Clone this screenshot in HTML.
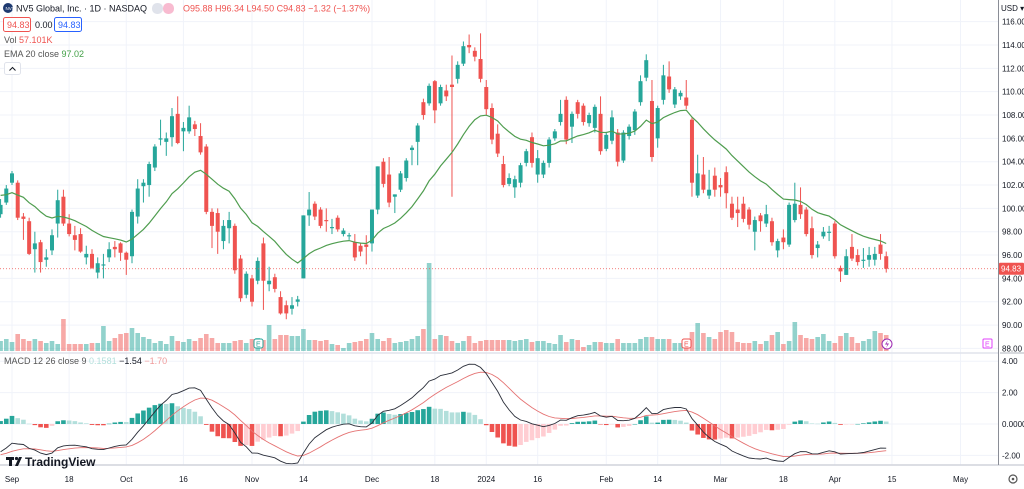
<!DOCTYPE html>
<html><head><meta charset="utf-8"><style>
html,body{margin:0;padding:0;background:#fff;overflow:hidden}
svg{display:block;font-family:"Liberation Sans",sans-serif}
</style></head><body>
<svg id="c" width="1024" height="489" viewBox="0 0 1024 489" xmlns="http://www.w3.org/2000/svg">
<g id="grid"></g>
<g id="vol"></g>
<g id="candles"></g>
<g id="ema"></g>
<g id="macd"></g>
<g id="axes"></g>
<line x1="0" y1="353" x2="998" y2="353" stroke="#e0e3eb" stroke-width="1.5"/>
<line x1="0" y1="465" x2="1024" y2="465" stroke="#d1d4dc" stroke-width="1.5"/>
<line x1="998.5" y1="0" x2="998.5" y2="465" stroke="#8a8d96" stroke-width="1"/>
<line x1="1000" y1="353" x2="1024" y2="353" stroke="#b2b5be"/>
<g font-size="9">
 <circle cx="8" cy="8" r="5" fill="#1e3a70"/>
 <text x="5.5" y="10" font-size="4.5" fill="#fff">NV5</text>
 <text x="16" y="11.5" fill="#131722">NV5 Global, Inc. · 1D · NASDAQ</text>
 <rect x="152" y="3" width="11" height="11" rx="5" fill="#e0e3eb"/>
 <rect x="163" y="3" width="11" height="11" rx="5" fill="#f8bbd0"/>
 <text x="183" y="11.5" fill="#ef5350">O95.88 H96.34 L94.50 C94.83 −1.32 (−1.37%)</text>
 <rect x="3.5" y="17.5" width="27" height="14" rx="2" fill="#fff" stroke="#ef5350"/>
 <text x="7" y="28" fill="#ef5350">94.83</text>
 <text x="35" y="28" fill="#131722">0.00</text>
 <rect x="54.5" y="17.5" width="27" height="14" rx="2" fill="#fff" stroke="#2962ff"/>
 <text x="58" y="28" fill="#2962ff">94.83</text>
 <text x="4" y="43" fill="#555">Vol <tspan fill="#ef5350">57.101K</tspan></text>
 <text x="4" y="57" fill="#555">EMA 20 close <tspan fill="#43a047">97.02</tspan></text>
 <rect x="4.5" y="62.5" width="16" height="12" rx="2" fill="#fff" stroke="#e0e3eb"/>
 <path d="M9.5 70.5 L12.5 67.5 L15.5 70.5" fill="none" stroke="#131722" stroke-width="1"/>
 <text x="4" y="364" fill="#555">MACD 12 26 close 9 <tspan fill="#b2dfdb">0.1581</tspan> <tspan fill="#131722">−1.54</tspan> <tspan fill="#ef9a9a">−1.70</tspan></text>
</g>
<g>
 <rect x="6" y="457" width="8" height="3" fill="#131722"/>
 <rect x="9" y="457" width="3" height="9" fill="#131722"/>
 <circle cx="16.5" cy="458.5" r="1.6" fill="#131722"/>
 <path d="M15 466 L19 457 L22 457 L18 466 Z" fill="#131722"/>
 <text x="25" y="466" font-size="12" font-weight="bold" fill="#131722">TradingView</text>
</g>
<text x="1001" y="11" font-size="8" fill="#131722">USD ▾</text>
<g><circle cx="1013" cy="479" r="4" fill="none" stroke="#555" stroke-width="1.2"/><circle cx="1013" cy="479" r="1.3" fill="#555"/></g>
<g>
 <rect x="254" y="339" width="9" height="9" rx="2" fill="#fff" stroke="#26a69a"/><text x="256" y="346.5" font-size="7" fill="#26a69a">E</text>
 <rect x="682" y="339" width="9" height="9" rx="2" fill="#fff" stroke="#ef5350"/><text x="684" y="346.5" font-size="7" fill="#ef5350">E</text>
 <circle cx="887" cy="344" r="5" fill="#fff" stroke="#9c27b0"/><path d="M888 340 L885 344.5 L887.5 344.5 L886 348 L889 343.5 L886.5 343.5 Z" fill="#9c27b0"/>
 <rect x="983" y="339" width="9" height="9" rx="1" fill="#fff" stroke="#e040fb"/><text x="985" y="346.5" font-size="7" fill="#e040fb">E</text>
</g>
</svg>
<script>
const opens=[99.5,100.5,102.2,102.2,99.3,98.9,96.5,97.1,95.6,96.4,98.7,101.0,98.7,97.7,97.8,95.8,96.1,94.5,95.1,95.8,96.7,97.0,96.2,95.9,99.3,101.9,102.0,103.5,105.9,105.7,106.1,108.1,106.6,106.6,107.2,106.2,105.3,99.7,99.6,97.2,98.3,98.5,95.7,92.6,94.0,93.8,97.0,93.5,94.1,92.4,91.7,91.4,92.0,94.0,99.4,100.4,99.9,99.0,98.3,99.2,97.8,97.6,97.1,96.8,96.9,97.0,99.9,104.0,102.9,101.0,101.6,102.6,105.0,105.7,109.1,109.0,110.9,109.0,110.1,110.6,111.1,112.4,114.0,113.5,112.8,110.4,108.6,106.4,103.8,102.1,101.8,102.2,103.9,106.1,102.9,102.9,103.9,106.0,107.4,109.3,107.0,109.1,108.8,107.3,106.9,108.1,105.1,105.8,106.5,104.1,106.2,106.7,109.1,111.2,109.2,106.0,109.3,111.3,108.9,109.6,109.5,107.6,101.1,102.9,101.1,102.8,102.0,103.1,100.4,99.9,100.4,99.9,98.0,99.4,98.7,98.9,96.4,97.5,96.9,99.0,100.3,99.9,98.3,96.6,97.6,97.9,98.7,94.9,94.3,96.7,96.0,95.5,95.6,95.6,96.9,95.9];
const highs=[100.8,102.0,103.2,102.4,99.6,99.2,98.0,97.3,96.5,98.2,101.6,101.6,99.5,98.5,98.3,96.8,96.5,95.8,96.1,97.1,97.2,97.1,96.3,99.9,102.5,102.5,104.0,105.5,107.6,106.5,108.6,109.6,107.4,108.8,107.5,107.3,105.5,100.0,100.0,99.0,99.7,98.7,96.0,94.6,94.3,95.8,97.5,95.0,94.4,92.9,92.1,92.4,92.5,99.4,101.4,100.6,100.1,100.0,99.1,99.4,98.3,97.9,97.8,97.0,97.7,99.9,103.6,104.3,104.4,101.2,103.2,104.3,105.4,107.3,109.4,110.7,111.0,110.6,110.6,113.1,112.6,114.3,114.9,113.8,115.0,111.0,109.0,107.2,104.5,103.0,102.8,103.9,105.1,106.5,105.0,104.1,106.1,106.8,109.3,109.6,108.3,109.3,109.0,108.2,108.9,109.6,106.5,108.4,106.8,106.7,107.2,108.5,111.4,113.2,111.0,108.8,112.3,112.6,110.4,110.1,111.0,107.8,104.6,104.4,103.3,103.5,102.6,103.6,101.0,101.0,101.0,100.1,99.3,99.6,100.3,99.2,97.4,98.2,100.5,102.2,101.8,100.1,99.3,97.2,98.4,98.5,98.9,95.1,96.5,97.8,96.5,96.6,96.7,96.7,97.8,96.3];
const lows=[99.2,100.3,102.0,99.0,97.3,96.0,94.5,94.5,95.0,96.0,97.5,98.5,97.6,96.4,96.2,95.2,94.8,94.0,94.0,95.4,95.8,95.5,94.3,95.3,98.7,100.5,101.0,103.2,105.4,104.5,105.3,105.5,104.9,106.4,106.2,104.6,99.5,96.6,96.1,96.5,97.0,94.4,92.0,92.3,91.6,93.5,91.3,92.9,92.8,90.9,90.5,90.9,91.6,94.0,98.5,99.0,98.3,98.0,97.8,98.0,97.6,97.3,95.5,95.9,95.2,96.3,99.5,101.8,100.1,99.6,101.4,102.3,103.7,103.7,107.6,108.8,107.3,108.8,109.2,101.0,110.7,112.2,113.3,112.6,110.8,108.0,105.5,104.4,101.8,101.9,100.9,101.8,103.6,103.5,102.2,102.6,103.5,105.8,107.1,105.5,105.6,107.7,107.1,107.0,106.5,104.6,104.9,105.5,103.6,103.9,105.9,106.3,108.8,110.9,104.0,105.2,108.9,109.9,108.6,109.3,108.5,101.0,100.9,101.3,100.8,101.0,101.0,100.0,99.0,98.4,98.8,98.2,96.4,98.0,98.4,96.8,95.8,96.5,96.7,98.8,99.1,97.6,95.7,95.8,97.4,97.2,95.7,93.7,94.3,95.5,95.1,94.9,95.0,95.1,95.6,94.5];
const closes=[100.3,101.7,103.0,99.2,99.1,96.1,97.0,95.4,95.8,97.7,100.7,98.7,97.8,97.3,96.3,96.1,94.9,95.3,95.2,96.5,96.5,96.2,95.6,99.7,101.7,102.2,103.8,105.3,106.0,106.0,107.9,105.6,106.9,107.8,106.8,104.8,99.7,98.5,98.0,98.5,99.0,94.7,92.3,94.4,92.0,95.5,93.8,93.8,93.1,91.0,91.0,91.7,92.2,99.4,99.9,99.3,98.5,98.9,98.4,98.2,98.1,97.7,95.8,96.3,96.7,99.9,103.6,102.1,100.5,101.2,103.0,104.1,105.2,107.1,108.0,110.5,108.4,110.4,109.6,110.4,112.3,113.9,113.8,113.0,111.1,108.5,105.9,104.7,102.0,102.6,102.5,103.7,104.9,103.9,104.3,103.9,105.9,106.6,108.1,105.9,108.1,108.1,107.4,108.0,108.7,104.9,106.3,107.8,104.0,106.5,107.0,108.3,110.9,112.7,104.4,108.6,111.4,110.2,110.2,109.9,108.8,102.2,103.0,101.6,101.6,101.6,101.8,101.3,99.2,99.6,99.1,98.6,99.0,98.9,99.5,97.1,97.2,97.1,100.3,100.4,99.5,97.8,96.0,96.9,98.0,98.0,95.9,94.6,95.9,95.7,95.4,95.6,96.0,96.1,96.1,94.83];
const volumes=[10,12,9,17,12,10,12,10,8,10,7,32,7,7,7,7,8,8,25,10,13,17,18,23,18,14,12,8,10,7,15,10,9,12,10,13,17,13,8,8,8,10,11,8,12,13,11,26,12,16,16,15,15,22,11,11,10,11,7,6,3,8,9,10,12,18,12,10,13,8,9,10,12,15,22,88,12,16,15,10,8,10,15,8,10,11,11,11,11,11,10,11,12,9,10,10,8,7,16,9,12,11,4,6,9,9,8,8,12,8,8,8,12,14,14,12,12,12,8,8,8,19,28,18,14,12,19,21,19,9,8,8,10,7,10,16,19,7,10,29,16,13,12,14,17,10,8,15,18,14,8,10,12,20,18,16];
const priceTicks=[116,114,112,110,108,106,104,102,100,98,96,94,92,90,88];
const macdTicks=[4,2,0,-2];
const macdTickLabels=["4.00","2.00","0.0000","-2.00"];
const dateTickIdx=[0,10,20,30,42,51,63,74,83,92,104,113,124,135,144,154,166];
const dateTickLabels=["Sep","18","Oct","16","Nov","14","Dec","18","2024","16","Feb","14","Mar","18","Apr","15","May"];
const lastPrice=94.83;

const NS="http://www.w3.org/2000/svg";
const X0=-2;
const xs=i=>12+(i+X0)*5.714;
const py=p=>45+(114-p)*11.67;
const my=v=>424-v*15.7;
const vy=v=>351-v*1.0;
function mk(tag,attrs,parent){const e=document.createElementNS(NS,tag);for(const k in attrs)e.setAttribute(k,attrs[k]);parent.appendChild(e);return e;}
const G=id=>document.getElementById(id);
const UP="#26a69a",DN="#ef5350";

const grid=G('grid');
priceTicks.forEach(p=>{const l=mk('line',{x1:0,x2:998,y1:py(p),y2:py(p),stroke:'#f0f3fa','stroke-width':1},grid);

});
macdTicks.forEach(v=>{const l=mk('line',{x1:0,x2:998,y1:my(v),y2:my(v),stroke:'#f0f3fa','stroke-width':1},grid);

});
dateTickIdx.forEach(d=>{const x=12+d*5.714;const l=mk('line',{x1:x,x2:x,y1:0,y2:465,stroke:'#f0f3fa','stroke-width':1},grid);

});

const axes=G('axes');
priceTicks.forEach(p=>{const t=mk('text',{x:1002,y:py(p)+3,'font-size':8,fill:'#131722'},axes);t.textContent=p.toFixed(2);

});
macdTicks.forEach((v,k)=>{const t=mk('text',{x:1002,y:my(v)+3,'font-size':8,fill:'#131722'},axes);t.textContent=macdTickLabels[k];

});
dateTickIdx.forEach((d,k)=>{const t=mk('text',{x:12+d*5.714,y:482,'font-size':8,fill:'#131722','text-anchor':'middle'},axes);t.textContent=dateTickLabels[k];

});
const lp=mk('line',{x1:0,x2:998,y1:py(lastPrice),y2:py(lastPrice),stroke:'#ef5350','stroke-width':0.8,'stroke-dasharray':'1 2'},axes);


const lb=mk('rect',{x:999,y:py(lastPrice)-6,width:25,height:12,fill:'#ef5350',rx:1},axes);


const lt=mk('text',{x:1001,y:py(lastPrice)+3,'font-size':8,fill:'#fff'},axes);lt.textContent=lastPrice.toFixed(2);



const vol=G('vol');
volumes.forEach((v,i)=>{const up=closes[i]>=opens[i];const r=mk('rect',{x:xs(i)-2.3,y:vy(v),width:4.6,height:351-vy(v),fill:up?'rgba(38,166,154,0.5)':'rgba(239,83,80,0.5)'},vol);

});

const cg=G('candles');
closes.forEach((c,i)=>{const o=opens[i],up=c>=o,col=up?UP:DN,x=xs(i);
const g=mk('g',{},cg);


mk('line',{x1:x,x2:x,y1:py(highs[i]),y2:py(lows[i]),stroke:col,'stroke-width':1},g);
const top=py(Math.max(o,c)),bot=py(Math.min(o,c));
mk('rect',{x:x-2,y:top,width:4,height:Math.max(1,bot-top),fill:col},g);});

function ema(arr,n,seed){const k=2/(n+1);let e=seed;return arr.map(v=>(e=v*k+e*(1-k)));}
const ema20=ema(closes,20,101.2);
const ep=mk('path',{d:ema20.map((v,i)=>(i?'L':'M')+xs(i).toFixed(1)+' '+py(v).toFixed(1)).join(''),fill:'none',stroke:'#4f9d4f','stroke-width':1.2},G('ema'));



const e12=ema(closes,12,100.4),e26=ema(closes,26,102.3);
const macd=e12.map((v,i)=>v-e26[i]);
const sig=ema(macd,9,-2.0);
const mg=G('macd');
macd.forEach((m,i)=>{const h=m-sig[i],prev=i?macd[i-1]-sig[i-1]:h;
let col=h>=0?(h>=prev?'#26a69a':'#b2dfdb'):(h<prev?'#ef5350':'#ffcdd2');
const y0=my(0),y1=my(h);
const r=mk('rect',{x:xs(i)-2.3,y:Math.min(y0,y1),width:4.6,height:Math.max(0.5,Math.abs(y1-y0)),fill:col},mg);

});
const sp=mk('path',{d:sig.map((v,i)=>(i?'L':'M')+xs(i).toFixed(1)+' '+my(v).toFixed(1)).join(''),fill:'none',stroke:'#e57373','stroke-width':0.9},mg);


const mp=mk('path',{d:macd.map((v,i)=>(i?'L':'M')+xs(i).toFixed(1)+' '+my(v).toFixed(1)).join(''),fill:'none',stroke:'#2a2e39','stroke-width':0.9},mg);


</script>
</body></html>
